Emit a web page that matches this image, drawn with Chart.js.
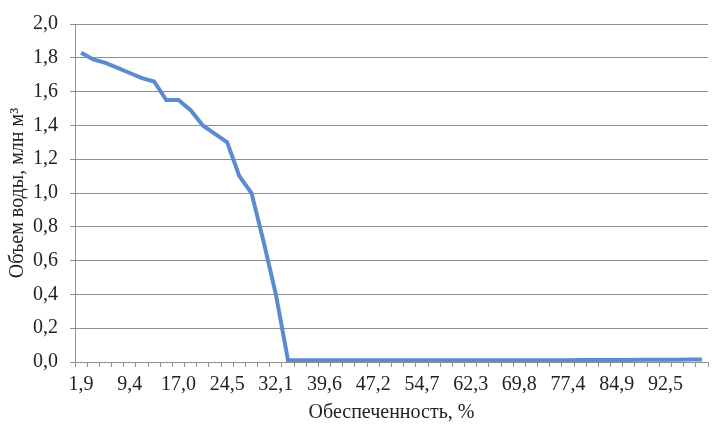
<!DOCTYPE html>
<html>
<head>
<meta charset="utf-8">
<script src="https://cdn.jsdelivr.net/npm/chart.js@4"></script>
<style>
  html, body { margin: 0; padding: 0; background: #fff; }
  #wrap { width: 713px; height: 431px; }
</style>
</head>
<body>
<div id="wrap"><canvas id="chart" width="713" height="431"></canvas></div>
<script>
// Обеспеченность, % (m/(n+1), n = 52)
const obespechennost = [
  '1,9', '3,8', '5,7', '7,5', '9,4', '11,3', '13,2', '15,1', '17,0', '18,9',
  '20,8', '22,6', '24,5', '26,4', '28,3', '30,2', '32,1', '34,0', '35,8', '37,7',
  '39,6', '41,5', '43,4', '45,3', '47,2', '49,1', '50,9', '52,8', '54,7', '56,6',
  '58,5', '60,4', '62,3', '64,2', '66,0', '67,9', '69,8', '71,7', '73,6', '75,5',
  '77,4', '79,2', '81,1', '83,0', '84,9', '86,8', '88,7', '90,6', '92,5', '94,3',
  '96,2', '98,1'
];

// Объем воды, млн м3
const obemVody = [
  1.83, 1.79, 1.77, 1.74, 1.71, 1.68, 1.66, 1.55, 1.55, 1.49,
  1.40, 1.35, 1.30, 1.10, 1.00, 0.71, 0.40, 0.01, 0.01, 0.01,
  0.01, 0.01, 0.01, 0.01, 0.01, 0.01, 0.01, 0.01, 0.01, 0.01,
  0.01, 0.01, 0.01, 0.01, 0.01, 0.01, 0.01, 0.01, 0.01, 0.01,
  0.01, 0.012, 0.012, 0.012, 0.012, 0.012, 0.013, 0.013, 0.014, 0.014,
  0.015, 0.015
];

const yTicks = [0, 0.2, 0.4, 0.6, 0.8, 1.0, 1.2, 1.4, 1.6, 1.8, 2.0];

const fontFamily = '"Liberation Serif", "Times New Roman", serif';
const textColor = '#222';
const gridColor = '#8f8f8f';

new Chart(document.getElementById('chart').getContext('2d'), {
  type: 'line',
  data: {
    labels: obespechennost,
    datasets: [{
      data: obemVody,
      borderColor: '#5a8bd0',
      borderWidth: 4,
      pointRadius: 0,
      tension: 0,
      fill: false
    }]
  },
  options: {
    responsive: false,
    animation: false,
    layout: { padding: { top: 12, right: 5, left: 0, bottom: 0 } },
    plugins: {
      legend: { display: false },
      tooltip: { enabled: false }
    },
    scales: {
      x: {
        type: 'category',
        offset: true,
        grid: {
          offset: true,
          drawOnChartArea: false,
          drawTicks: true,
          tickLength: 5,
          color: gridColor
        },
        border: { color: gridColor, width: 1 },
        ticks: {
          autoSkip: false,
          maxRotation: 0,
          padding: 6,
          color: textColor,
          font: { family: fontFamily, size: 20 },
          callback: (v, i) => (i % 4 === 0 ? obespechennost[i] : '')
        },
        title: {
          display: true,
          text: 'Обеспеченность, %',
          color: textColor,
          font: { family: fontFamily, size: 20 },
          padding: { top: 0, bottom: 6 }
        },
        afterFit: (scale) => { scale.height = 69; }
      },
      y: {
        min: 0,
        max: 2,
        afterBuildTicks: (scale) => { scale.ticks = yTicks.map(v => ({ value: v })); },
        grid: {
          drawTicks: true,
          tickLength: 5,
          color: gridColor
        },
        border: { color: gridColor, width: 1 },
        ticks: {
          padding: 12,
          color: textColor,
          font: { family: fontFamily, size: 20 },
          callback: (v) => v.toFixed(1).replace('.', ',')
        },
        title: {
          display: true,
          text: 'Объем воды, млн м³',
          color: textColor,
          font: { family: fontFamily, size: 20 },
          padding: { top: 6, bottom: 0 }
        },
        afterFit: (scale) => { scale.width = 75; }
      }
    }
  }
});
</script>
</body>
</html>
